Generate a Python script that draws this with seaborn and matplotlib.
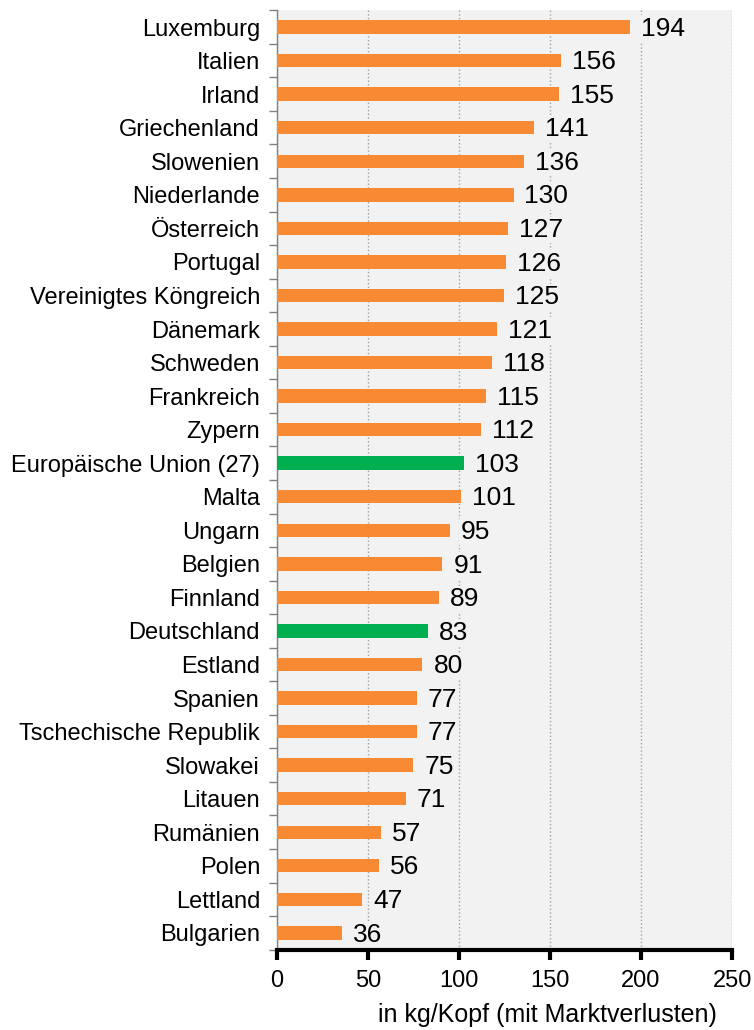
import matplotlib.pyplot as plt
import seaborn as sns
import pandas as pd
import numpy as np

countries = ["Luxemburg", "Italien", "Irland", "Griechenland", "Slowenien", "Niederlande",
             "Österreich", "Portugal", "Vereinigtes Köngreich", "Dänemark", "Schweden",
             "Frankreich", "Zypern", "Europäische Union (27)", "Malta", "Ungarn", "Belgien",
             "Finnland", "Deutschland", "Estland", "Spanien", "Tschechische Republik",
             "Slowakei", "Litauen", "Rumänien", "Polen", "Lettland", "Bulgarien"]
values = [194, 156, 155, 141, 136, 130, 127, 126, 125, 121, 118, 115, 112, 103, 101,
          95, 91, 89, 83, 80, 77, 77, 75, 71, 57, 56, 47, 36]
highlight = ["Europäische Union (27)", "Deutschland"]

df = pd.DataFrame({"Land": countries, "Wert": values})
df["Gruppe"] = np.where(df["Land"].isin(highlight), "hl", "std")

sns.set_style("white")
plt.rcParams["font.family"] = ["Liberation Sans", "DejaVu Sans"]
plt.rcParams["text.color"] = "black"
plt.rcParams["xtick.color"] = "black"
plt.rcParams["ytick.color"] = "black"

bg = "#f2f2f2"
fig = plt.figure(figsize=(7.54, 10.3), dpi=100)
ax = fig.add_axes([0.367, 0.078, 0.604, 0.912])
ax.set_facecolor(bg)

sns.barplot(data=df, y="Land", x="Wert", hue="Gruppe", dodge=False,
            palette={"std": "#f78a33", "hl": "#00b050"}, width=0.4, saturation=1,
            linewidth=0, legend=False, ax=ax, zorder=3)

ax.set_xlim(0, 250)
ax.set_ylim(len(countries) - 0.5, -0.5)
ax.set_xticks([0, 50, 100, 150, 200, 250])
ax.tick_params(axis="x", bottom=True, labelsize=17, length=7, width=3, colors="black",
               pad=8, direction="out")
ax.tick_params(axis="y", left=True, labelsize=17, length=0, pad=12)
ax.set_yticks(np.arange(-0.5, len(countries), 1), minor=True)
ax.tick_params(axis="y", which="minor", left=True, length=6, width=1, color="#808080",
               direction="out")
ax.grid(axis="x", color="#a0a0a0", linestyle=":", linewidth=1, zorder=0)
ax.set_axisbelow(True)

for s in ["top", "right"]:
    ax.spines[s].set_visible(False)
ax.spines["left"].set_color("#808080")
ax.spines["left"].set_linewidth(1)
ax.spines["bottom"].set_color("black")
ax.spines["bottom"].set_linewidth(3)
ax.spines["bottom"].set_zorder(5)

for i, v in enumerate(values):
    ax.text(v + 6, i + 0.05, str(v), va="center", ha="left", fontsize=19, zorder=4,
            bbox=dict(facecolor=bg, edgecolor="none", pad=1))

ax.set_xlabel("")
ax.set_ylabel("")
fig.text(547 / 754, 1 - 1015 / 1030, "in kg/Kopf (mit Marktverlusten)", ha="center",
         va="center", fontsize=18)

plt.savefig("out.png", dpi=100)
